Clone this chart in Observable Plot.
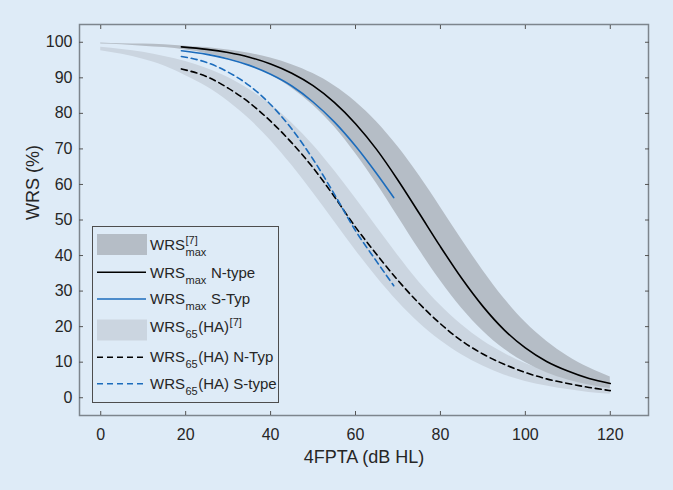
<!DOCTYPE html>
<html><head><meta charset="utf-8">
<script src="https://cdn.jsdelivr.net/npm/d3@7"></script>
<script src="https://cdn.jsdelivr.net/npm/@observablehq/plot@0.6"></script>
<style>
html,body{margin:0;padding:0;background:#deebf7;}
#chart svg{display:block;}
</style></head><body><div id="chart"></div>
<script>
// ---- data ----
const xBand = [0,5,10,15,20,25,30,35,40,45,50,55,60,65,70,75,80,85,90,95,100,105,110,115,120];
const wrsMaxHigh = [99.8,99.6,99.5,99.3,98.9,98.5,97.8,96.9,95.6,93.7,91.2,87.8,83.3,77.6,70.6,62.5,53.6,44.5,35.8,27.9,21.2,15.9,11.7,8.4,5.8];
const wrsMaxLow  = [99.5,99.3,98.9,98.5,97.8,96.8,95.4,93.5,90.8,87.1,82.3,76.2,68.7,60.2,50.9,41.6,32.9,25.2,18.8,13.7,9.9,7.0,5.0,3.6,2.6];
const ha65High   = [98.6,98.0,97.2,96.0,94.6,92.6,90.1,86.7,82.5,77.3,71.1,63.9,56.1,48.0,40.0,32.5,26.0,20.5,16.0,12.5,9.6,7.5,6.0,5.0,4.2];
const ha65Low    = [97.6,96.6,95.2,93.3,90.6,87.5,83.4,78.4,72.4,65.4,57.7,49.6,41.5,33.9,27.0,21.0,16.1,12.1,8.9,6.4,4.6,3.3,2.3,1.5,1.0];

const xLong = [19,25,30,35,40,45,50,55,60,65,70,75,80,85,90,95,100,105,110,115,120];
const wrsMaxNType = [98.7,98.0,97.1,95.8,93.9,91.3,87.8,83.1,77.1,69.8,61.2,51.9,42.5,33.6,25.7,19.1,14.0,10.2,7.5,5.4,4.0];
const wrs65NTyp   = [92.5,90.3,87.1,83.0,77.8,71.7,64.7,56.6,48.0,40.3,33.0,26.5,20.8,16.0,12.3,9.4,7.1,5.3,4.0,2.9,2.0];

const xShort = [19,25,30,35,40,45,50,55,60,65,69];
const wrsMaxSTyp = [97.6,96.6,95.3,93.5,91.0,87.7,83.2,77.6,70.8,63.0,56.3];
const wrs65SType = [96.0,94.3,91.6,87.8,82.5,75.6,67.1,57.3,47.0,38.3,31.5];

const xTicks = [0,20,40,60,80,100,120];
const yTicks = [0,10,20,30,40,50,60,70,80,90,100];
const xLabel = "4FPTA (dB HL)";
const yLabel = "WRS (%)";

// ---- styles ----
const BG = "#deebf7";
const DARK = "#b5bdc6";
const LIGHT = "#cbd5e0";
const BLUE = "#1c6cbc";
const FONT = "'Liberation Sans', Arial, sans-serif";

const bandMax = xBand.map((x,i) => ({x, lo: wrsMaxLow[i], hi: wrsMaxHigh[i]}));
const bandHA = xBand.map((x,i) => ({x, lo: ha65Low[i], hi: ha65High[i]}));
const nMax = xLong.map((x,i) => ({x, y: wrsMaxNType[i]}));
const nHA = xLong.map((x,i) => ({x, y: wrs65NTyp[i]}));
const sMax = xShort.map((x,i) => ({x, y: wrsMaxSTyp[i]}));
const sHA = xShort.map((x,i) => ({x, y: wrs65SType[i]}));

const plot = Plot.plot({
  width: 673, height: 490,
  marginLeft: 79, marginRight: 25, marginTop: 24, marginBottom: 75,
  x: {domain: [-5, 129]},
  y: {domain: [-5, 105]},
  style: {background: BG, fontFamily: FONT, fontSize: "16px", color: "#262626"},
  marks: [
    Plot.areaY(bandHA, {x: "x", y1: "lo", y2: "hi", fill: LIGHT, curve: "monotone-x"}),
    Plot.areaY(bandMax, {x: "x", y1: "lo", y2: "hi", fill: DARK, curve: "monotone-x"}),
    Plot.lineY(nHA, {x: "x", y: "y", stroke: "#000", strokeWidth: 1.6, strokeDasharray: "6,4", curve: "monotone-x"}),
    Plot.lineY(sHA, {x: "x", y: "y", stroke: BLUE, strokeWidth: 1.6, strokeDasharray: "6,4", curve: "monotone-x"}),
    Plot.lineY(nMax, {x: "x", y: "y", stroke: "#000", strokeWidth: 1.6, curve: "monotone-x"}),
    Plot.lineY(sMax, {x: "x", y: "y", stroke: BLUE, strokeWidth: 1.6, curve: "monotone-x"}),
    Plot.frame({stroke: "#7d858d", strokeWidth: 1.5}),
    Plot.axisX(xTicks, {anchor: "bottom", tickSize: -4, tickPadding: 17, label: null, stroke: "#555", fill: "#262626", fontSize: 16}),
    Plot.axisX(xTicks, {anchor: "top", tickSize: -4, tickFormat: () => "", label: null, stroke: "#555"}),
    Plot.axisY(yTicks, {anchor: "left", tickSize: -4, tickPadding: 11, label: null, stroke: "#555", fill: "#262626", fontSize: 16}),
    Plot.axisY(yTicks, {anchor: "right", tickSize: -4, tickFormat: () => "", label: null, stroke: "#555"}),
    Plot.text([xLabel], {frameAnchor: "bottom", dy: 42, fontSize: 18, fill: "#262626", lineAnchor: "middle"}),
    Plot.text([yLabel], {frameAnchor: "left", dx: -46, rotate: -90, fontSize: 18, fill: "#262626", lineAnchor: "middle"})
  ]
});
document.getElementById("chart").appendChild(plot);

// ---- legend (inside the plot, lower left) ----
const legendItems = [
  {type: "band", fill: DARK, base: "WRS", sub: "max", sup: "[7]", tail: ""},
  {type: "line", stroke: "#000", dash: null, base: "WRS", sub: "max", tail: " N-type"},
  {type: "line", stroke: BLUE, dash: null, base: "WRS", sub: "max", tail: " S-Typ"},
  {type: "band", fill: LIGHT, base: "WRS", sub: "65", tail: "(HA)", tailSup: "[7]"},
  {type: "line", stroke: "#000", dash: "6,4", base: "WRS", sub: "65", tail: "(HA) N-Typ"},
  {type: "line", stroke: BLUE, dash: "6,4", base: "WRS", sub: "65", tail: "(HA) S-type"}
];
const swatchY = [244.5, 272.3, 299, 330, 357.3, 383.7];
const baseY = [249.5, 277.5, 304, 331.5, 361.5, 388.5];

const svg = d3.select(plot);
const lg = svg.append("g").attr("font-family", FONT).attr("fill", "#262626").attr("text-anchor", "start");
lg.append("rect").attr("x", 92.5).attr("y", 226.5).attr("width", 186).attr("height", 176)
  .attr("fill", BG).attr("stroke", "#4d4d4d").attr("stroke-width", 1);

legendItems.forEach((d, i) => {
  const cy = swatchY[i];
  if (d.type === "band") {
    lg.append("rect").attr("x", 97).attr("y", cy - 10.5).attr("width", 50).attr("height", 21).attr("fill", d.fill);
  } else {
    lg.append("line").attr("x1", 97).attr("x2", 146).attr("y1", cy).attr("y2", cy)
      .attr("stroke", d.stroke).attr("stroke-width", 1.6).attr("stroke-dasharray", d.dash);
  }
  const by = baseY[i];
  const t = lg.append("text").attr("x", 150).attr("y", by).attr("font-size", 15).attr("text-anchor", "start").text(d.base);
  const w = t.node().getComputedTextLength();
  const sx = 150 + w + 0.5;
  const s = lg.append("text").attr("x", sx).attr("y", by + 6).attr("font-size", 11).attr("text-anchor", "start").text(d.sub);
  const sw = s.node().getComputedTextLength();
  if (d.sup) lg.append("text").attr("x", sx).attr("y", by - 6).attr("font-size", 11).attr("text-anchor", "start").text(d.sup);
  let tx = sx + sw + 0.5;
  if (d.tail) {
    const tt = lg.append("text").attr("x", tx).attr("y", by).attr("font-size", 15).attr("text-anchor", "start")
      .attr("xml:space", "preserve").style("white-space", "pre").text(d.tail);
    tx += tt.node().getComputedTextLength();
  }
  if (d.tailSup) lg.append("text").attr("x", tx + 0.5).attr("y", by - 6).attr("font-size", 11).attr("text-anchor", "start").text(d.tailSup);
});
</script>
</body></html>
